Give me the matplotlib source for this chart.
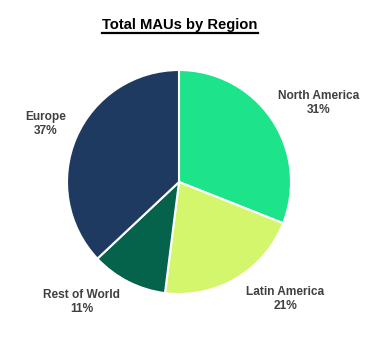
import matplotlib
matplotlib.use("Agg")
import matplotlib.pyplot as plt
import numpy as np

regions = ["North America", "Latin America", "Rest of World", "Europe"]
shares = [31, 21, 11, 37]
colors = ["#1DE38B", "#D4F66C", "#04634A", "#1F3A60"]
# label placement: (radius multiple, angle in degrees)
label_pos = [(1.43, 29.6), (1.41, -47.8), (1.38, -129.0), (1.30, 156.6)]

plt.rcParams["font.family"] = ["Liberation Sans", "DejaVu Sans"]
TXT = "#404040"

W, H = 389, 341
fig = plt.figure(figsize=(W / 100, H / 100), dpi=100)
ax = fig.add_axes([0, 0, 1, 1])

cx, cy, r = 179, 182, 112   # pie centre / radius in pixels
ax.pie(shares, colors=colors, startangle=90, counterclock=False,
       wedgeprops=dict(edgecolor="white", linewidth=1.5))
ax.set_aspect("auto")
ax.set_xlim(-cx / r, (W - cx) / r)
ax.set_ylim(-(H - cy) / r, cy / r)
ax.axis("off")

for name, val, (d, a) in zip(regions, shares, label_pos):
    t = np.deg2rad(a)
    ax.text(d * np.cos(t), d * np.sin(t), f"{name}\n{val}%", ha="center",
            va="center", fontsize=8.6, fontweight="bold", color=TXT,
            linespacing=1.2)

title = fig.text(180 / W, 1 - 25 / H, "Total MAUs by Region", ha="center",
                 va="center", fontsize=10.6, fontweight="bold", color="black")

# underline the title
fig.canvas.draw()
bb = title.get_window_extent().transformed(fig.transFigure.inverted())
yl = bb.y0 - 1.0 / H
fig.add_artist(plt.Line2D([bb.x0, bb.x1], [yl, yl], color="black", lw=1.6,
                          transform=fig.transFigure))

fig.savefig("out.png", dpi=100)
